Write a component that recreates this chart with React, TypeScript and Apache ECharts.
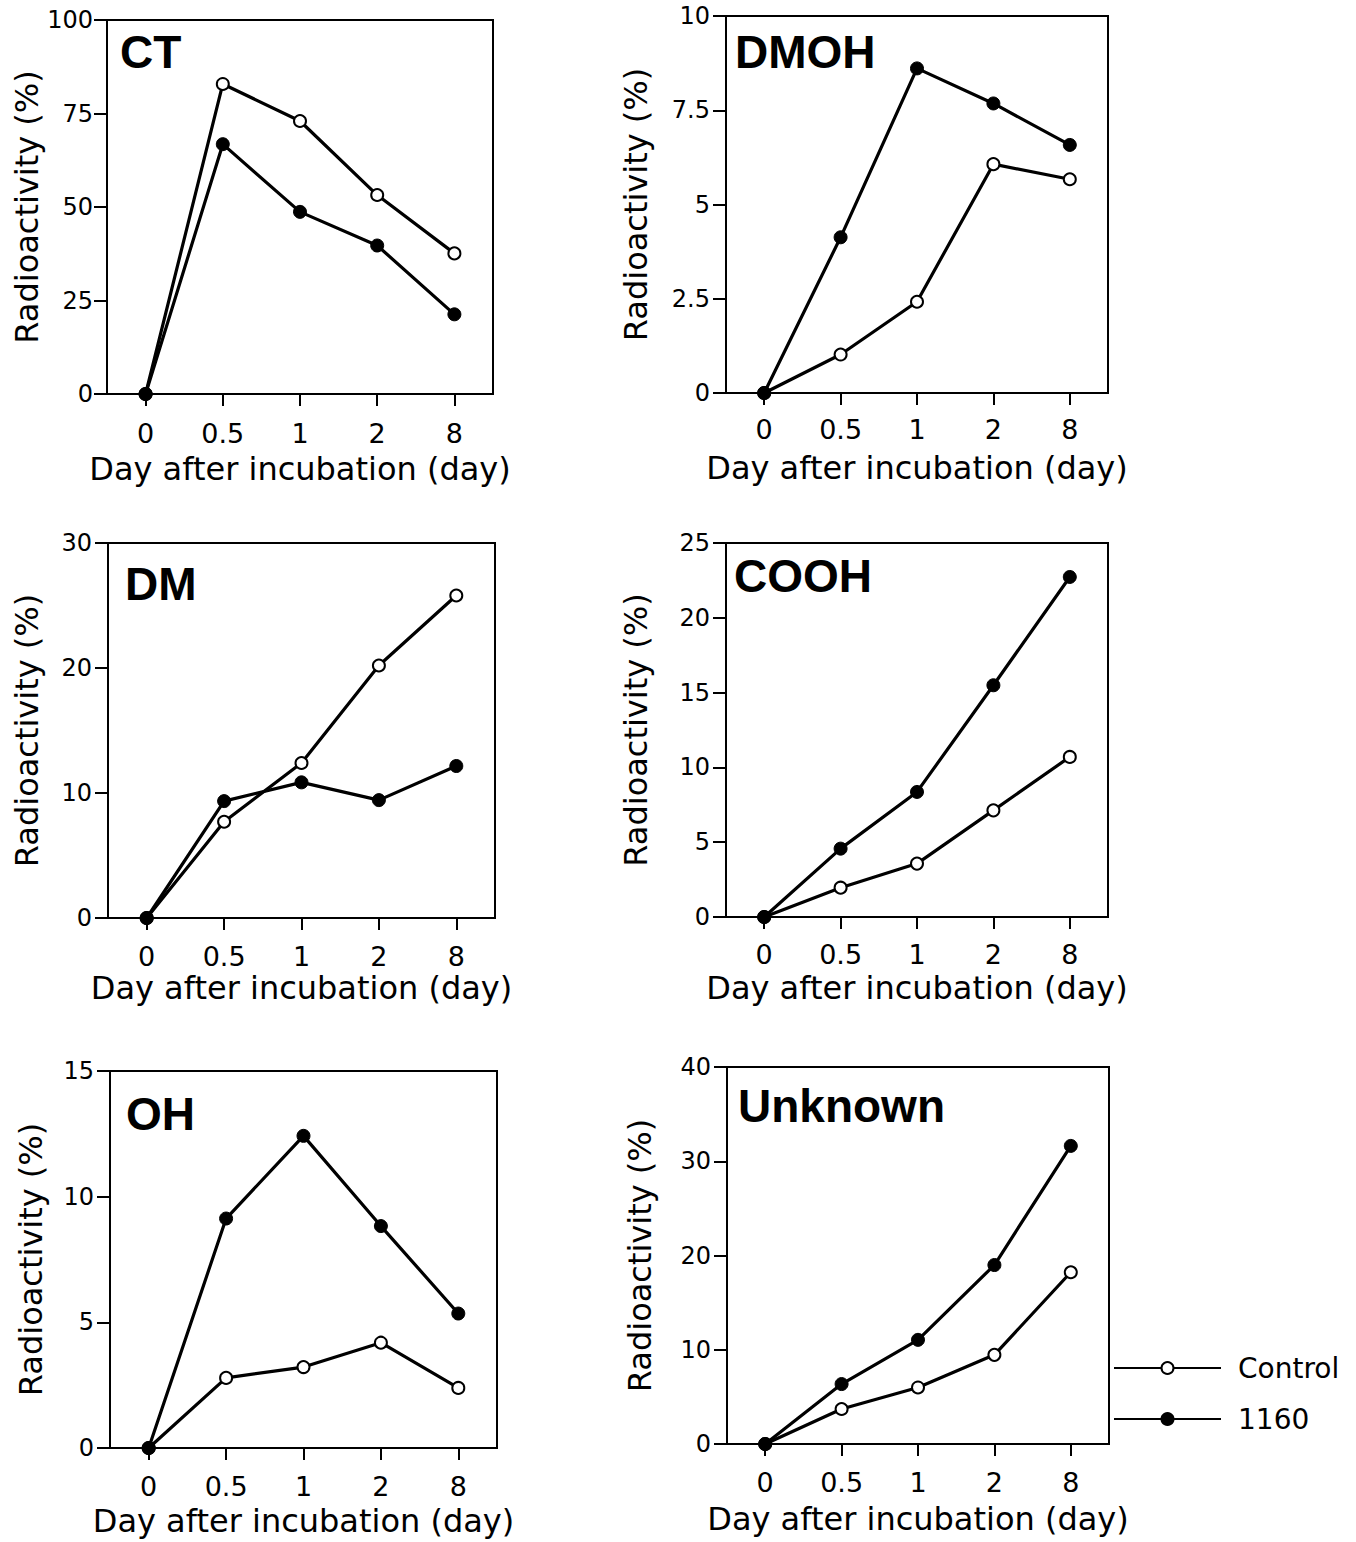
import React, { useEffect, useRef } from 'react';
import * as echarts from 'echarts';

// ---- data ----
const days = ['0', '0.5', '1', '2', '8'];
const panelTitles = ['CT', 'DMOH', 'DM', 'COOH', 'OH', 'Unknown'];
const seriesNames = ['Control', '1160'];

const ctControl = [0, 82.9, 73.0, 53.2, 37.6];
const ct1160 = [0, 66.8, 48.7, 39.7, 21.3];
const dmohControl = [0, 1.02, 2.42, 6.07, 5.67];
const dmoh1160 = [0, 4.13, 8.61, 7.68, 6.58];
const dmControl = [0, 7.7, 12.4, 20.2, 25.8];
const dm1160 = [0, 9.35, 10.85, 9.43, 12.16];
const coohControl = [0, 1.96, 3.57, 7.13, 10.7];
const cooh1160 = [0, 4.57, 8.36, 15.49, 22.73];
const ohControl = [0, 2.79, 3.22, 4.19, 2.39];
const oh1160 = [0, 9.13, 12.42, 8.83, 5.35];
const unkControl = [0, 3.71, 6.0, 9.46, 18.22];
const unk1160 = [0, 6.36, 11.05, 18.99, 31.63];

const controlData = [ctControl, dmohControl, dmControl, coohControl, ohControl, unkControl];
const treatedData = [ct1160, dmoh1160, dm1160, cooh1160, oh1160, unk1160];

const yMax = [100, 10, 30, 25, 15, 40];
const yInterval = [25, 2.5, 10, 5, 5, 10];

const xName = 'Day after incubation (day)';
const yName = 'Radioactivity (%)';

// ---- layout ----
const layout = [
  { left: 107, top: 20, width: 386, height: 374, tx: 120, ty: 75.3, yGap: 64.5, xGap: 59, xMargin: 26, yMargin: 14 },
  { left: 726, top: 16, width: 382, height: 377, tx: 735, ty: 75.3, yGap: 74.3, xGap: 58.5, xMargin: 22.5, yMargin: 16 },
  { left: 108, top: 543, width: 387, height: 375, tx: 125, ty: 607, yGap: 64.7, xGap: 53.6, xMargin: 24.5, yMargin: 16 },
  { left: 726, top: 543, width: 382, height: 374, tx: 734, ty: 598.7, yGap: 74.3, xGap: 54.6, xMargin: 24, yMargin: 16 },
  { left: 110, top: 1071, width: 387, height: 377, tx: 126, ty: 1137, yGap: 63.3, xGap: 57, xMargin: 24.5, yMargin: 16 },
  { left: 727, top: 1067, width: 382, height: 377, tx: 738, ty: 1128.7, yGap: 70.6, xGap: 58.7, xMargin: 24.5, yMargin: 16 },
];

const FONT = 'DejaVu Sans';
const BLACK = '#000';

export default function App() {
  const ref = useRef<HTMLDivElement>(null);

  useEffect(() => {
    if (!ref.current) return;
    const chart = echarts.init(ref.current, null, { renderer: 'svg' });

    const grids = layout.map((l) => ({
      left: l.left,
      top: l.top,
      width: l.width,
      height: l.height,
      show: true,
      borderColor: BLACK,
      borderWidth: 2,
      backgroundColor: 'transparent',
      containLabel: false,
      outerBoundsMode: 'none',
    }));

    const xAxes = layout.map((l, i) => ({
      type: 'category',
      gridIndex: i,
      data: days,
      boundaryGap: true,
      name: xName,
      nameLocation: 'middle',
      nameGap: l.xGap,
      nameMoveOverlap: false,
      nameTextStyle: { fontSize: 32, color: BLACK, fontFamily: FONT },
      axisLine: { show: true, lineStyle: { color: BLACK, width: 2 } },
      axisTick: { show: true, alignWithLabel: true, length: 12, lineStyle: { color: BLACK, width: 2 } },
      axisLabel: { fontSize: 27, color: BLACK, fontFamily: FONT, margin: l.xMargin },
      splitLine: { show: false },
    }));

    const yAxes = layout.map((l, i) => ({
      type: 'value',
      gridIndex: i,
      min: 0,
      max: yMax[i],
      interval: yInterval[i],
      name: yName,
      nameLocation: 'middle',
      nameGap: l.yGap,
      nameMoveOverlap: false,
      nameTextStyle: { fontSize: 32, color: BLACK, fontFamily: FONT },
      axisLine: { show: true, lineStyle: { color: BLACK, width: 2 } },
      axisTick: { show: true, length: 13, lineStyle: { color: BLACK, width: 2 } },
      axisLabel: { fontSize: 24, color: BLACK, fontFamily: FONT, margin: l.yMargin },
      splitLine: { show: false },
    }));

    const series: any[] = [];
    layout.forEach((_, i) => {
      series.push({
        type: 'line',
        name: seriesNames[0],
        xAxisIndex: i,
        yAxisIndex: i,
        data: controlData[i],
        symbol: 'circle',
        symbolSize: 12,
        showSymbol: true,
        lineStyle: { color: BLACK, width: 3.2 },
        itemStyle: { color: '#fff', borderColor: BLACK, borderWidth: 2 },
        z: 3,
      });
      series.push({
        type: 'line',
        name: seriesNames[1],
        xAxisIndex: i,
        yAxisIndex: i,
        data: treatedData[i],
        symbol: 'circle',
        symbolSize: 13,
        showSymbol: true,
        lineStyle: { color: BLACK, width: 3.2 },
        itemStyle: { color: BLACK, borderColor: BLACK, borderWidth: 1 },
        z: 4,
      });
    });

    const titles = layout.map((l, i) => ({
      type: 'text',
      x: l.tx,
      y: l.ty,
      style: {
        text: panelTitles[i],
        fontSize: 46,
        fontWeight: 'bold',
        fontFamily: 'Liberation Sans',
        fill: BLACK,
        verticalAlign: 'bottom',
        align: 'left',
      },
    }));

    chart.setOption({
      animation: false,
      backgroundColor: '#fff',
      grid: grids,
      xAxis: xAxes,
      yAxis: yAxes,
      series,
      legend: {
        show: true,
        orient: 'vertical',
        left: 1113,
        top: 1354,
        padding: 0,
        itemWidth: 107,
        itemHeight: 15,
        itemGap: 23,
        selectedMode: false,
        data: seriesNames,
        lineStyle: { color: BLACK, width: 2 },
        textStyle: { fontSize: 28, color: BLACK, fontFamily: FONT, padding: [0, 0, 0, 12] },
      },
      graphic: titles,
    });

    return () => {
      chart.dispose();
    };
  }, []);

  return (
    <div
      ref={ref}
      style={{ position: 'absolute', left: 0, top: 0, width: 1356, height: 1542, background: '#fff' }}
    />
  );
}
